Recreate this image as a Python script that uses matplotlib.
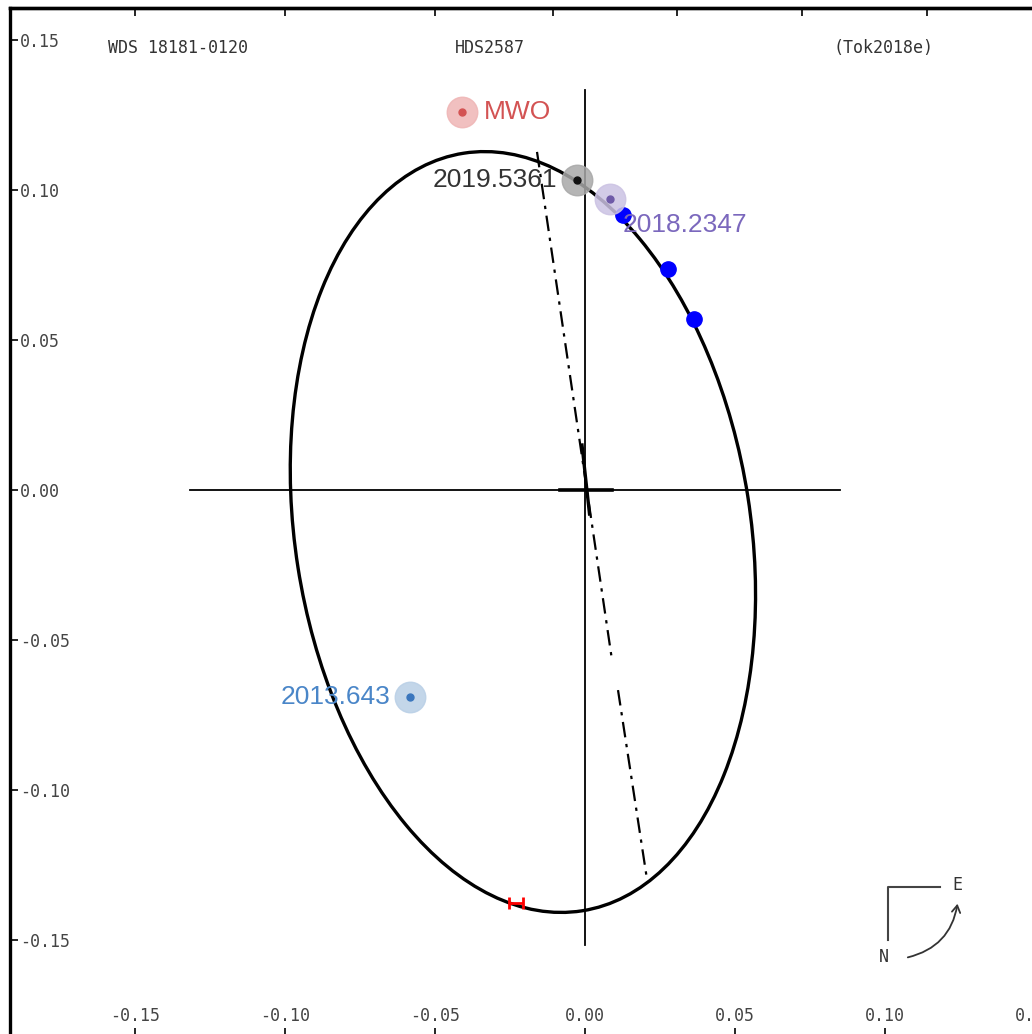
import numpy as np
import matplotlib.pyplot as plt
from matplotlib.patches import Ellipse, FancyArrowPatch

plt.rcParams['axes.unicode_minus'] = False

# orbit ellipse (apparent), arcsec
orbit_center = (-0.0207, -0.0140)
orbit_width = 0.1518      # minor axis
orbit_height = 0.2556     # major axis
orbit_angle = 8.9         # deg, counter-clockwise

# line of nodes (with the small gap seen below the centre)
node_x = [-0.0160, 0.0090, np.nan, 0.0110, 0.0207]
node_y = [0.1127, -0.0567, np.nan, -0.0667, -0.1300]

# measurements
blue_x = [0.0127, 0.0277, 0.0363]
blue_y = [0.0917, 0.0737, 0.0570]

labels = ["MWO", "2019.5361", "2018.2347", "2013.643"]
lab_x = [-0.0410, -0.0027, 0.0083, -0.0583]
lab_y = [0.1260, 0.1033, 0.0970, -0.0690]
halo_colors = ["#efb5b5", "#a8a8a8", "#cbc2e3", "#b9cfe6"]
dot_colors = ["#d35353", "#111111", "#6e5aa8", "#3a76bd"]
text_colors = ["#d35353", "#333333", "#7b68bd", "#4a86c8"]
text_offsets = [(16, 0, 'left', 'center'), (-14, 0, 'right', 'center'),
                (9, -19, 'left', 'center'), (-14, 0, 'right', 'center')]

peri_x = -0.0230
peri_y = -0.1377

ticks = [-0.15, -0.10, -0.05, 0.00, 0.05, 0.10, 0.15]
top_ticks = [-0.15, -0.10, -0.05, -0.0107, 0.0307, 0.0723, 0.114]

fig = plt.figure(figsize=(10.32, 10.34), dpi=100)
ax = fig.add_axes([10 / 1032, -2 / 1034, 1032 / 1032, 1028 / 1034])
ax.set_xlim(-0.19167, 0.15233)
ax.set_ylim(-0.182, 0.16067)

# crosshair through primary
ax.plot([-0.1317, 0.085], [0, 0], color='black', lw=1.3, zorder=2)
ax.plot([0, 0], [0.1333, -0.1517], color='black', lw=1.3, zorder=2)
ax.plot([-0.0083, 0.009], [0, 0], color='black', lw=2.6, zorder=2)

ax.add_patch(Ellipse(orbit_center, orbit_width, orbit_height, angle=orbit_angle,
                     fill=False, ec='black', lw=2.4, zorder=3))

ax.plot(node_x, node_y, color='black', lw=1.6, dashes=(7, 3, 1.5, 3), zorder=2)
ax.plot([-0.0010, 0.0015], [0.015, -0.008], color='black', lw=2.4, zorder=2)

ax.plot(blue_x, blue_y, 'o', color='#0000ff', ms=11, zorder=4)

for i in range(len(labels)):
    ax.plot(lab_x[i], lab_y[i], 'o', color=halo_colors[i], ms=22, alpha=0.85, zorder=5)
    ax.plot(lab_x[i], lab_y[i], 'o', color=dot_colors[i], ms=5, zorder=6)
    dx, dy, ha, va = text_offsets[i]
    ax.annotate(labels[i], (lab_x[i], lab_y[i]), xytext=(dx, dy), textcoords='offset points',
                ha=ha, va=va, fontsize=19, color=text_colors[i], family='Liberation Sans', zorder=7)

ax.errorbar(peri_x, peri_y, xerr=0.0024, color='red', lw=2, capsize=4.5, capthick=2, zorder=6)

# header
hdr = dict(fontsize=12, color='#333333', family='DejaVu Sans Mono', va='center')
ax.text(-0.1590, 0.1473, "WDS 18181-0120", ha='left', **hdr)
ax.text(-0.0433, 0.1473, "HDS2587", ha='left', **hdr)
ax.text(0.0827, 0.1473, "(Tok2018e)", ha='left', **hdr)

# N / E orientation mark
ax.plot([0.1010, 0.1010, 0.1183], [-0.1500, -0.1323, -0.1323], color='#444444', lw=1.5)
ax.text(0.1240, -0.1317, "E", fontsize=12, color='#333333', family='DejaVu Sans Mono', ha='center', va='center')
ax.text(0.0997, -0.1557, "N", fontsize=12, color='#333333', family='DejaVu Sans Mono', ha='center', va='center')
ax.add_patch(FancyArrowPatch((0.1067, -0.1560), (0.1243, -0.1370), connectionstyle='arc3,rad=0.35',
                             arrowstyle='->,head_length=5,head_width=3', color='#333333', lw=1.3))

# axes / ticks
for s in ['left', 'top']:
    ax.spines[s].set_linewidth(2.4)
ax.set_xticks(ticks)
ax.set_yticks(ticks)
ax.set_xticklabels(['%.2f' % t for t in ticks])
ax.set_yticklabels(['%.2f' % t for t in ticks])
ax.tick_params(axis='y', direction='in', length=6, width=1.2, pad=-7, labelsize=12,
               labelcolor='#444444', labelfontfamily='DejaVu Sans Mono')
ax.tick_params(axis='x', direction='in', length=6, width=1.2, pad=-21, labelsize=12,
               labelcolor='#444444', labelfontfamily='DejaVu Sans Mono')
for lab in ax.get_yticklabels():
    lab.set_ha('left')

top = ax.secondary_xaxis('top')
top.set_xticks(top_ticks)
top.set_xticklabels([])
top.tick_params(direction='in', length=6, width=1.2)
top.spines['top'].set_linewidth(2.4)

fig.savefig('out.png', dpi=100)
